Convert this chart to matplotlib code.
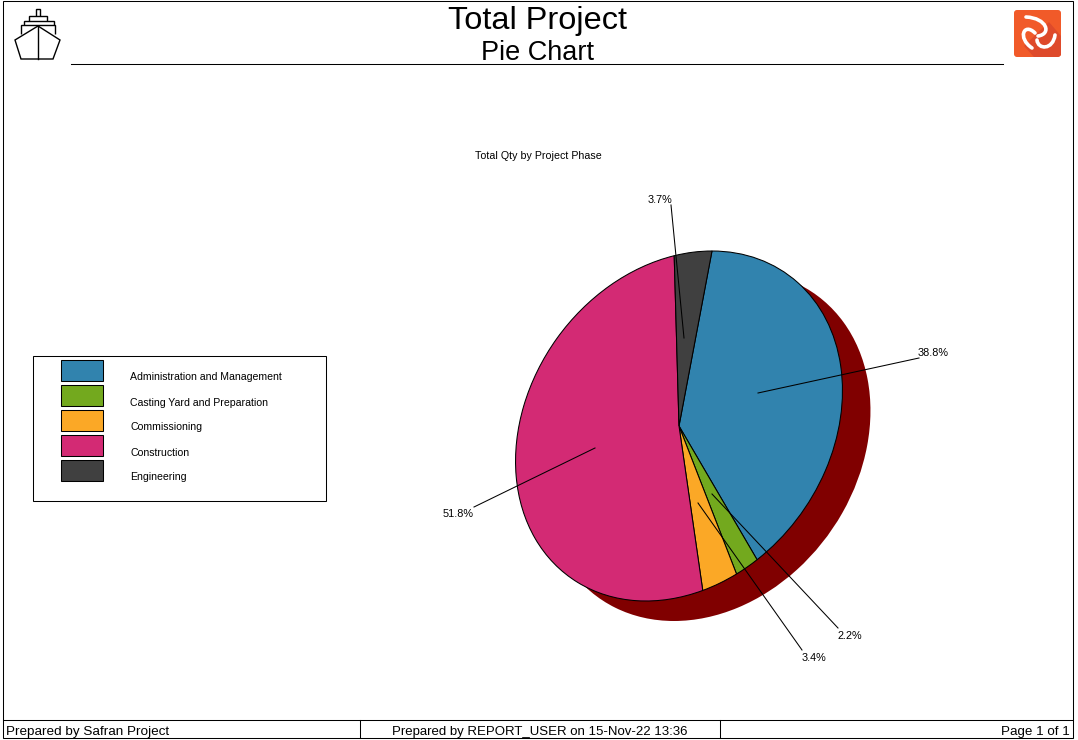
import matplotlib
matplotlib.use("Agg")
import matplotlib.pyplot as plt
from matplotlib.patches import Rectangle, FancyBboxPatch, Polygon, PathPatch
from matplotlib.path import Path
from matplotlib.transforms import Affine2D

plt.rcParams["font.family"] = ["Liberation Sans", "DejaVu Sans"]

categories = ["Administration and Management", "Casting Yard and Preparation",
              "Commissioning", "Construction", "Engineering"]
values = [38.8, 2.2, 3.4, 51.8, 3.7]
colors = ["#3183AE", "#73A91E", "#FBA826", "#D32A74", "#404040"]
shadow_color = "#800000"
title = "Total Project"
subtitle = "Pie Chart"
chart_title = "Total Qty by Project Phase"
footer_left = "Prepared by Safran Project"
footer_mid = "Prepared by REPORT_USER on 15-Nov-22 13:36"
footer_right = "Page 1 of 1"

W, H = 1078, 740
LW = 0.75
fig = plt.figure(figsize=(W / 100, H / 100), dpi=100, facecolor="white")
bg = fig.add_axes([0, 0, 1, 1])
bg.set_xlim(0, W)
bg.set_ylim(H, 0)
bg.axis("off")

# frame and footer
bg.add_patch(Rectangle((3, 1), 1070, 737, fill=False, ec="black", lw=LW))
bg.plot([3, 1073], [720, 720], color="black", lw=LW)
bg.plot([360, 360], [720, 738], color="black", lw=LW)
bg.plot([720, 720], [720, 738], color="black", lw=LW)
bg.plot([71, 1003], [64, 64], color="black", lw=LW)

bg.text(538, 21, title, ha="center", va="center", fontsize=23.4, color="black")
bg.text(537.5, 53, subtitle, ha="center", va="center", fontsize=19.5, color="black")
bg.text(538, 156, chart_title, ha="center", va="center", fontsize=7.7)
bg.text(6, 731.5, footer_left, ha="left", va="center", fontsize=9.7)
bg.text(540, 731.5, footer_mid, ha="center", va="center", fontsize=9.55)
bg.text(1069.5, 731.5, footer_right, ha="right", va="center", fontsize=9.6)

# ship icon
for pts, closed in [
    ([(36, 16), (36, 9), (40, 9), (40, 16)], False),
    ([(29, 21), (29, 16), (47, 16), (47, 21)], False),
    ([(24, 25), (24, 21), (54, 21), (54, 25)], False),
    ([(21, 34), (21, 25), (55, 25), (55, 34)], False),
    ([(15, 40), (38, 26), (60, 40), (53, 59), (21, 59)], True),
]:
    bg.add_patch(Polygon(pts, closed=closed, fill=False, ec="black", lw=1.0))
bg.plot([38, 38], [26, 59], color="black", lw=1.0)

# logo
bg.add_patch(FancyBboxPatch((1016, 12), 43, 43, boxstyle="round,pad=2,rounding_size=3",
                            fc="#F15A29", ec="none"))
bg.add_patch(Polygon([(1049, 22), (1061, 36), (1061, 55), (1058, 57), (1034, 57), (1024, 46)],
                     fc="#DE4A2B", ec="none"))
for verts in [
    [(1026, 17), (1047, 18), (1052, 34), (1038, 36)],
    [(1032, 48), (1017, 38), (1024, 22), (1035, 33)],
    [(1055, 35), (1053, 50), (1038, 50), (1037, 40)],
]:
    p = Path(verts, [Path.MOVETO] + [Path.CURVE4] * 3)
    bg.add_patch(PathPatch(p, fc="none", ec="white", lw=2.6, capstyle="round"))

# legend
bg.add_patch(Rectangle((33, 356), 293, 145, fill=False, ec="black", lw=LW))
for i, (c, col) in enumerate(zip(categories, colors)):
    y = 360 + 25 * i
    bg.add_patch(Rectangle((61, y), 42, 21, fc=col, ec="black", lw=LW))
    bg.text(130.5, y + 17.5, c, ha="left", va="center", fontsize=7.6)

# pie: a tilted ellipse, drawn with a shear on the library's wedges
cx, cy, rx, ry = 679, 426, 164, 175
ax = fig.add_axes([(cx - rx) / W, 1 - (cy + ry) / H, 2 * rx / W, 2 * ry / H])
shear = Affine2D.from_values(160.1 / rx, 0, 33 / rx, 1, 0, 0)
shadow, _ = ax.pie([1], colors=[shadow_color], radius=1)
wedges, _ = ax.pie(values, colors=colors, startangle=90, counterclock=False, radius=1,
                   wedgeprops=dict(edgecolor="black", linewidth=LW))
ax.set_aspect("auto")
ax.set_xlim(-1, 1)
ax.set_ylim(-1, 1)
ax.axis("off")
for w in shadow:
    w.set_transform(shear + Affine2D().translate(28 / rx, -20 / ry) + ax.transData)
    w.set_clip_on(False)
for w in wedges:
    w.set_transform(shear + ax.transData)
    w.set_clip_on(False)
ax.set_zorder(1)

# leader lines and labels
over = fig.add_axes([0, 0, 1, 1], zorder=2)
over.set_xlim(0, W)
over.set_ylim(H, 0)
over.axis("off")
over.patch.set_alpha(0)
starts = [(758, 393), (712, 494), (698, 503), (595, 448), (684, 338)]
ends = [(919, 358), (838, 628), (802, 650), (474, 507), (671, 205)]
label_pos = [(933.5, 353), (849.5, 636), (813.5, 658), (458.5, 514), (659.5, 200)]
for v, s, e, l in zip(values, starts, ends, label_pos):
    over.plot([s[0], e[0]], [s[1], e[1]], color="black", lw=LW)
    over.text(l[0], l[1], f"{v:.1f}%", ha="center", va="center", fontsize=7.8)

fig.savefig("out.png", dpi=100)
